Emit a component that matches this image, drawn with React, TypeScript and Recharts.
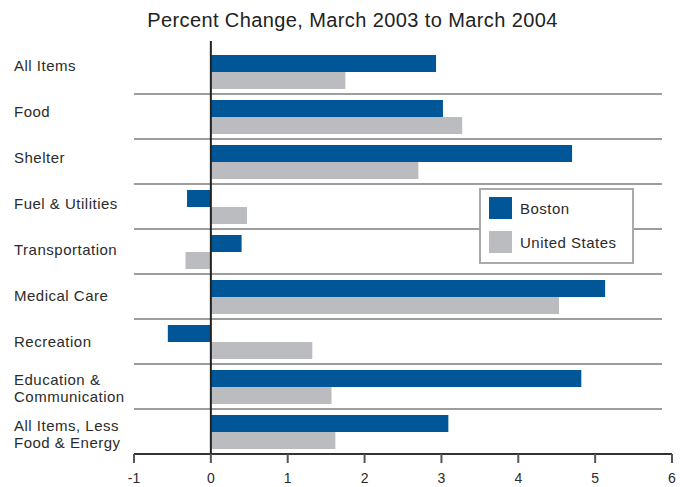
import React from 'react';
import { BarChart, Bar, XAxis, YAxis, CartesianGrid, ReferenceLine, Legend } from 'recharts';

const categories = [
  'All Items',
  'Food',
  'Shelter',
  'Fuel & Utilities',
  'Transportation',
  'Medical Care',
  'Recreation',
  'Education &\nCommunication',
  'All Items, Less\nFood & Energy',
];
const bostonValues = [2.93, 3.02, 4.7, -0.31, 0.4, 5.13, -0.56, 4.82, 3.09];
const usValues = [1.75, 3.27, 2.7, 0.47, -0.33, 4.53, 1.32, 1.57, 1.62];
const xTicks = [-1, 0, 1, 2, 3, 4, 5, 6];

const BLUE = '#005697';
const GRAY = '#bbbcc0';
const FONT = "'Liberation Sans', Arial, Helvetica, sans-serif";

const data = categories.map((name, i) => ({ name, boston: bostonValues[i], us: usValues[i] }));

// labels in the original sit on a slightly wider pitch than the rows
const CategoryTick = (props: any) => {
  const lines: string[] = String(props.payload.value).split('\n');
  const lh = 17.5;
  const shift = ((props.index ?? 4) - 4) * 1 - 1.5;
  const startY = props.y + shift - ((lines.length - 1) * lh) / 2;
  return (
    <text x={14} y={startY} fill="#2b2b2b" fontSize={15} letterSpacing={0.5} fontFamily={FONT}>
      {lines.map((l, i) => (
        <tspan key={i} x={14} dy={i === 0 ? '0.36em' : lh}>{l}</tspan>
      ))}
    </text>
  );
};

const LegendBox = () => (
  <div
    style={{
      width: 155,
      height: 76,
      boxSizing: 'border-box',
      border: '2px solid #aaaaaa',
      background: '#fff',
      padding: '7px 0 0 8px',
      fontFamily: FONT,
      fontSize: 15,
      letterSpacing: 0.5,
      color: '#2b2b2b',
    }}
  >
    {[
      { label: 'Boston', color: BLUE },
      { label: 'United States', color: GRAY },
    ].map((item, i) => (
      <div key={item.label} style={{ display: 'flex', alignItems: 'center', height: 22, marginBottom: i === 0 ? 12 : 0 }}>
        <span style={{ display: 'inline-block', width: 23, height: 22, background: item.color, marginRight: 8 }} />
        <span>{item.label}</span>
      </div>
    ))}
  </div>
);

export default function App() {
  return (
    <div style={{ position: 'absolute', left: 0, top: 0, width: 684, height: 487, background: '#fff' }}>
      <div
        style={{
          position: 'absolute',
          left: 0,
          top: 8,
          width: 705,
          textAlign: 'center',
          fontFamily: FONT,
          fontSize: 20,
          lineHeight: '24px',
          letterSpacing: 0.4,
          color: '#222',
        }}
      >
        Percent Change, March 2003 to March 2004
      </div>
      <BarChart
        width={684}
        height={487}
        data={data}
        layout="vertical"
        margin={{ top: 49, right: 12, bottom: 3, left: 0 }}
        barGap={0}
        barSize={17}
      >
        <CartesianGrid
          vertical={false}
          horizontalCoordinatesGenerator={({ offset }: any) =>
            categories.slice(1).map((_, i) => offset.top + (offset.height * (i + 1)) / categories.length)
          }
          horizontal={(p: any) => (
            <line key={p.key} x1={p.x1} x2={p.x2 - 10} y1={p.y1} y2={p.y2} stroke="#9d9d9d" strokeWidth={2} />
          )}
        />
        <XAxis
          type="number"
          domain={[-1, 6]}
          ticks={xTicks}
          interval={0}
          height={30}
          axisLine={{ stroke: '#333', strokeWidth: 2 }}
          tickLine={{ stroke: '#555', strokeWidth: 2 }}
          tickSize={9}
          tickMargin={10}
          tick={{ fill: '#2b2b2b', fontSize: 14, fontFamily: FONT }}
        />
        <YAxis
          type="category"
          dataKey="name"
          width={134}
          axisLine={false}
          tickLine={false}
          tick={<CategoryTick />}
          interval={0}
        />
        <Legend
          layout="vertical"
          align="center"
          verticalAlign="middle"
          wrapperStyle={{ left: 479, top: 188, width: 155, height: 76 }}
          content={() => <LegendBox />}
        />
        <Bar dataKey="boston" name="Boston" fill={BLUE} isAnimationActive={false} />
        <Bar dataKey="us" name="United States" fill={GRAY} isAnimationActive={false} />
        <ReferenceLine
          x={0}
          stroke="#222"
          strokeWidth={2}
          shape={(p: any) => (
            <line
              x1={p.x1}
              x2={p.x2}
              y1={Math.min(p.y1, p.y2) - 8}
              y2={Math.max(p.y1, p.y2) + 1}
              stroke="#222"
              strokeWidth={2}
            />
          )}
        />
      </BarChart>
    </div>
  );
}
